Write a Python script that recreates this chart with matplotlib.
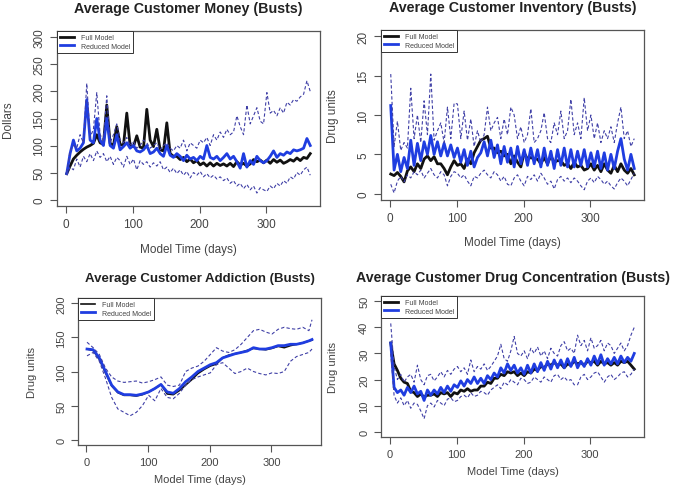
import numpy as np
import matplotlib
matplotlib.use('Agg')
import matplotlib.pyplot as plt

plt.rcParams['font.family'] = ['Liberation Sans', 'DejaVu Sans']

# model days, sampled every 5 days for the noisy panels
days = np.arange(1, 367, 5)
# every 10 days for the smooth addiction panel
days_add = np.append(np.arange(1, 362, 10), 366)

# --- Average Customer Money (dollars) ---
money_full = [48, 62, 75, 82, 88, 93, 97, 100, 104, 120,
              105, 102, 175, 104, 100, 135, 102, 100, 160, 100,
              98, 118, 97, 95, 167, 110, 98, 130, 92, 90,
              142, 85, 80, 80, 74, 78, 70, 75, 68, 72,
              64, 68, 62, 68, 62, 67, 63, 66, 62, 67,
              61, 70, 64, 67, 62, 66, 74, 70, 73, 68,
              73, 67, 74, 69, 73, 67, 70, 74, 71, 77,
              72, 78, 76, 85]
money_red = [48, 85, 110, 90, 95, 105, 185, 110, 105, 150,
             110, 100, 150, 100, 95, 120, 92, 98, 105, 95,
             100, 90, 88, 92, 100, 85, 88, 95, 85, 80,
             100, 82, 78, 85, 80, 72, 82, 75, 78, 72,
             80, 75, 100, 78, 75, 80, 72, 78, 85, 75,
             80, 70, 58, 85, 60, 72, 65, 80, 72, 68,
             72, 80, 90, 78, 85, 82, 88, 85, 92, 90,
             92, 95, 113, 100]
money_upper = [50, 90, 100, 95, 120, 105, 215, 115, 130, 198,
               120, 110, 192, 105, 120, 140, 110, 105, 115, 100,
               108, 95, 100, 110, 105, 95, 100, 105, 92, 100,
               105, 95, 90, 100, 95, 110, 90, 105, 100, 95,
               110, 105, 115, 100, 120, 110, 125, 115, 130, 120,
               125, 155, 135, 120, 175, 140, 155, 170, 145, 140,
               198, 160, 165, 155, 170, 160, 180, 175, 185, 182,
               190, 195, 220, 200]
money_lower = [45, 60, 55, 75, 60, 80, 70, 85, 72, 90,
               78, 85, 70, 80, 65, 78, 72, 60, 80, 65,
               75, 55, 72, 65, 70, 60, 68, 62, 70, 55,
               60, 50, 58, 48, 55, 45, 52, 40, 50, 45,
               52, 42, 48, 40, 45, 38, 42, 35, 40, 30,
               35, 25, 30, 20, 28, 18, 25, 12, 22, 18,
               15, 25, 20, 30, 25, 35, 30, 42, 38, 50,
               45, 55, 60, 45]

# --- Average Customer Inventory (drug units) ---
inv_full = [2.5, 2.3, 2.7, 2.2, 1.5, 2.9, 3.4, 2.8, 3.8, 3.2,
            4.4, 4.8, 4.2, 4.7, 3.8, 3.8, 3.2, 2.4, 3.4, 4.2,
            3.6, 3.8, 3.2, 4.4, 3.8, 5.2, 6.0, 6.8, 7.0, 7.3,
            5.8, 5.8, 5.2, 5.4, 4.8, 5.0, 3.8, 4.8, 4.0, 3.4,
            5.2, 4.4, 4.6, 4.4, 4.4, 3.8, 4.6, 3.8, 4.8, 4.0,
            4.2, 4.2, 3.6, 3.8, 3.2, 4.0, 3.4, 3.6, 3.0, 3.2,
            3.8, 3.0, 3.6, 2.8, 3.8, 3.0, 2.6, 3.6, 2.8, 3.8,
            3.0, 2.6, 3.2, 2.4]
inv_red = [11.2, 3.0, 5.0, 2.8, 4.6, 3.2, 6.8, 3.6, 6.4, 4.2,
           6.6, 5.0, 7.4, 5.0, 6.6, 4.8, 6.4, 4.8, 6.2, 4.6,
           5.8, 4.0, 5.6, 3.6, 5.4, 3.4, 4.6, 5.2, 6.6, 4.8,
           6.8, 4.6, 6.2, 3.8, 6.0, 4.0, 5.8, 3.4, 6.0, 3.8,
           5.6, 3.6, 5.8, 3.8, 5.6, 3.4, 5.8, 3.6, 5.4, 3.2,
           5.6, 3.6, 5.8, 3.4, 5.6, 3.4, 5.4, 3.6, 5.6, 3.4,
           5.2, 3.4, 5.4, 3.2, 5.2, 3.0, 5.0, 3.2, 5.4, 7.0,
           4.4, 3.0, 5.0, 3.2]
inv_upper = [15.2, 6.0, 9.2, 5.5, 6.5, 5.8, 13.4, 7.0, 10.0, 6.5,
             11.8, 7.5, 15.2, 6.8, 8.0, 9.0, 6.5, 11.0, 7.0, 11.5,
             11.4, 7.0, 10.5, 6.8, 9.5, 6.0, 8.0, 6.5, 7.5, 11.0,
             8.0, 9.0, 9.7, 7.0, 9.5, 7.5, 11.0, 10.0, 7.0, 8.5,
             6.5, 7.5, 10.8, 6.5, 7.0, 8.0, 10.3, 7.0, 6.5, 9.0,
             7.5, 10.5, 7.0, 8.0, 12.0, 7.5, 9.0, 7.0, 12.2, 8.0,
             10.0, 7.0, 9.0, 6.5, 8.0, 7.0, 8.5, 6.5, 9.0, 11.0,
             7.0, 8.0, 6.0, 7.0]
inv_lower = [1.2, 0.1, 1.6, 2.2, 1.5, 2.4, 2.0, 2.8, 2.4, 3.0,
             2.0, 2.6, 3.2, 2.4, 2.0, 2.8, 2.4, 1.0, 2.2, 2.8,
             2.6, 2.0, 2.4, 1.6, 1.0, 2.2, 2.0, 2.6, 3.0, 2.4,
             2.0, 2.8, 2.4, 1.6, 2.2, 1.2, 1.0, 2.0, 2.4, 1.6,
             1.0, 2.2, 1.8, 2.4, 1.6, 2.6, 2.0, 1.2, 1.6, 0.6,
             1.8, 2.2, 1.6, 2.0, 1.4, 2.0, 1.6, 1.0, 0.5, 1.6,
             2.0, 1.4, 2.2, 1.8, 1.2, 1.6, 1.0, 0.6, 1.4, 2.0,
             1.6, 1.0, 1.8, 2.6]

# --- Average Customer Addiction (drug units) ---
add_full = [133, 131, 118, 98, 79, 69, 65, 65, 64, 66,
            70, 75, 81, 67, 66, 72, 80, 88, 97, 103,
            108, 111, 120, 124, 126, 128, 131, 134, 133, 132,
            134, 137, 135, 138, 140, 142, 145, 146]
add_red = [133, 132, 120, 100, 80, 70, 66, 66, 65, 67,
           70, 75, 81, 70, 68, 75, 85, 92, 100, 105,
           110, 113, 120, 123, 126, 128, 130, 135, 133, 133,
           135, 138, 138, 140, 140, 142, 145, 147]
add_upper = [143, 135, 125, 105, 92, 86, 84, 85, 86, 83,
             85, 88, 92, 80, 78, 80, 100, 105, 108, 115,
             125, 135, 130, 128, 132, 140, 150, 160, 162, 158,
             155, 162, 165, 163, 162, 165, 160, 176]
add_lower = [123, 128, 115, 90, 62, 45, 40, 35, 40, 50,
             65, 57, 75, 62, 60, 68, 80, 88, 92, 95,
             98, 110, 113, 105, 97, 100, 105, 100, 97, 95,
             98, 97, 100, 115, 122, 125, 128, 133]

# --- Average Customer Drug Concentration ---
conc_full = [34, 26, 23.5, 20.5, 19, 18.5, 15.5, 15, 13.5, 14.5,
             13.3, 14, 14, 14.5, 13.5, 15, 14.5, 15, 13.5, 15,
             14.5, 16, 15.5, 16.5, 15.5, 16, 16, 17.5, 17.5, 19,
             18.5, 20.5, 20.5, 22, 21.5, 23, 22.5, 23, 21.5, 22.5,
             21.5, 23, 22.5, 24, 23.5, 25, 24.5, 26, 25.5, 26.5,
             25.5, 26, 24.5, 26, 25.5, 27, 26, 26.5, 25.5, 27,
             26.5, 27, 25.5, 27, 26, 26.5, 25.5, 26.5, 25.5, 27,
             26.5, 27, 25.5, 24]
conc_red = [34, 17, 15, 16, 14, 17, 15, 17.5, 14.5, 15.5,
            12, 16, 14, 16, 14.5, 17, 15, 17.5, 15.5, 18,
            17, 19.5, 17.5, 20, 18.5, 21, 18.5, 20.5, 18.5, 21.5,
            20, 22.5, 21, 24.5, 22.5, 26, 23.5, 25.5, 22.5, 24.5,
            22, 25.5, 22.5, 26, 23, 26.5, 23.5, 27, 24, 27.5,
            24.5, 27.5, 24.5, 28, 25, 28.5, 24.5, 27, 25, 28,
            25.5, 29, 26, 29.5, 25.5, 28, 26, 28.5, 26, 29,
            26.5, 28.5, 27, 30]
conc_upper = [41.5, 25, 20, 22, 19, 21, 22, 19, 25.5, 20,
              18, 21.5, 22, 19.5, 21, 23, 21, 23.5, 22, 24,
              25, 23, 24.5, 22, 27.5, 23, 25, 24, 26, 23.5,
              25, 27, 29, 33.5, 28, 27, 31, 36.5, 30, 29,
              31, 28, 32, 30, 32.5, 29, 31, 28, 32, 30,
              29, 33, 34.5, 31, 32, 30, 37, 33, 35, 31,
              36, 32, 33, 35, 31, 34, 33, 30, 32, 34,
              31, 33, 37, 40]
conc_lower = [30, 14, 11, 13, 10, 12, 9, 11, 10.5, 8,
              5, 10, 11, 9.5, 12, 11, 10, 12.5, 13, 11.5,
              12, 13.5, 14, 13, 15, 13.5, 14, 15.5, 15, 14,
              16, 17, 18, 16.5, 19, 18, 20, 19, 18, 20.5,
              20, 18.5, 19, 21, 20, 19, 21, 20, 19, 21.5,
              22, 20, 21, 19.5, 20, 18, 18, 21, 22, 20,
              21, 22.5, 23, 21, 19, 21, 22, 20, 21, 22.5,
              23, 21, 22, 24]

BLACK = '#111111'
BLUE = '#1f3de0'
DASH = '#3f3fa6'
TXT = '#444444'

W, H = 675, 489
fig = plt.figure(figsize=(W / 100, H / 100), dpi=100)


def px_axes(l, t, r, b):
    return fig.add_axes([l / W, 1 - b / H, (r - l) / W, (b - t) / H])


def ftext(x, y, s, **kw):
    fig.text(x / W, 1 - y / H, s, ha='center', va='center', **kw)


def panel(box, x, full, red, upper, lower, ymax, ystep, title, title_y,
          xlab_y, ylab, ylab_x, lw_full=2.0, lw_red=2.0, fs=8.5, tfs=10.3):
    l, t, r, b = box
    ax = px_axes(l, t, r, b)
    ax.plot(x, full, color=BLACK, lw=lw_full, label='Full Model')
    ax.plot(x, red, color=BLUE, lw=lw_red, label='Reduced Model')
    ax.plot(x, upper, color=DASH, lw=0.8, ls=(0, (3, 2)))
    ax.plot(x, lower, color=DASH, lw=0.8, ls=(0, (3, 2)))
    ax.set_xlim(1 - 14.6, 366 + 14.6)
    ax.set_ylim(-0.04 * ymax, 1.04 * ymax)
    ax.set_xticks([0, 100, 200, 300])
    ax.set_yticks(np.arange(0, ymax + 1e-9, ystep))
    ax.tick_params(direction='out', length=5, width=0.8, colors='#555555',
                   labelcolor=TXT, labelsize=fs, pad=3.5)
    for lab in ax.get_yticklabels():
        lab.set_rotation(90)
        lab.set_va('center')
    for sp in ax.spines.values():
        sp.set_color('#555555')
        sp.set_linewidth(0.9)
    leg = ax.legend(loc='upper left', borderaxespad=0, fontsize=5,
                    handlelength=1.9, handletextpad=1.0, labelspacing=0.2,
                    borderpad=0.5, fancybox=False, framealpha=1)
    leg.get_frame().set_edgecolor('#333333')
    leg.get_frame().set_linewidth(0.7)
    for txt in leg.get_texts():
        txt.set_color(TXT)
    cx = (l + r) / 2
    ftext(cx, title_y, title, fontsize=tfs, fontweight='bold', color='#222222')
    ftext(cx, xlab_y, 'Model Time (days)', fontsize=fs, color=TXT)
    ftext(ylab_x, (t + b) / 2, ylab, fontsize=fs, color=TXT, rotation=90)
    return ax


panel((57, 32, 320, 207), days, money_full, money_red, money_upper, money_lower,
      300, 50, 'Average Customer Money (Busts)', 9, 250, 'Dollars', 8)
panel((381, 31, 644, 201), days, inv_full, inv_red, inv_upper, inv_lower,
      20, 5, 'Average Customer Inventory (Busts)', 8, 243, 'Drug units', 333)
panel((78, 299, 321, 446), days_add, add_full, add_red, add_upper, add_lower,
      200, 50, 'Average Customer Addiction (Busts)', 279, 480, 'Drug units', 32,
      lw_full=1.2, lw_red=2.0, fs=8, tfs=9.5)
panel((381, 297, 644, 438), days, conc_full, conc_red, conc_upper, conc_lower,
      50, 10, 'Average Customer Drug Concentration (Busts)', 278, 472,
      'Drug units', 333, fs=8, tfs=10.2)

fig.savefig('out.png', dpi=100)
